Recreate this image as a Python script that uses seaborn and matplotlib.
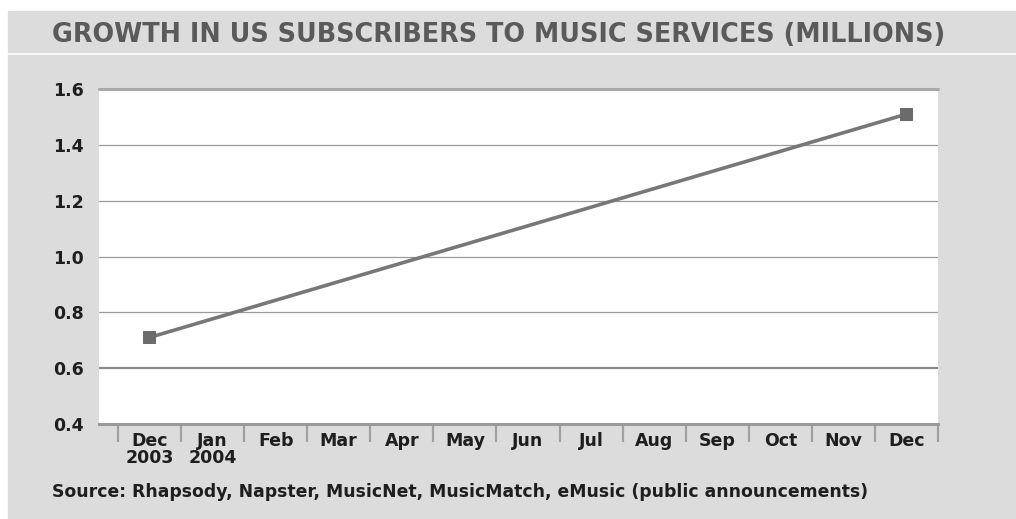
import numpy as np
import pandas as pd
import matplotlib
matplotlib.use("Agg")
import matplotlib.pyplot as plt
from matplotlib.patches import Rectangle
import seaborn as sns

# Month labels along the x axis
months = ["Dec\n2003", "Jan\n2004", "Feb", "Mar", "Apr", "May", "Jun",
          "Jul", "Aug", "Sep", "Oct", "Nov", "Dec"]
# Subscribers (millions); only the two end points were announced
subscribers = [0.71, None, None, None, None, None, None,
               None, None, None, None, None, 1.51]
y_ticks = [0.4, 0.6, 0.8, 1.0, 1.2, 1.4, 1.6]

title = "GROWTH IN US SUBSCRIBERS TO MUSIC SERVICES (MILLIONS)"
source = "Source: Rhapsody, Napster, MusicNet, MusicMatch, eMusic (public announcements)"

df = pd.DataFrame({"pos": np.arange(len(months)),
                   "subs": pd.to_numeric(pd.Series(subscribers), errors="coerce")}).dropna()

sns.set_theme(style="white")
plt.rcParams["font.family"] = ["DejaVu Sans"]

W, H = 1016, 519
fig = plt.figure(figsize=(W / 100, H / 100), dpi=100, facecolor="white")

BG = "#dcdcdc"
# title band and body panel, kept beneath the axes
fig.patches.append(Rectangle((8 / W, 1 - 52 / H), 1 - 8 / W, 41 / H,
                             transform=fig.transFigure, color=BG, zorder=-10))
fig.patches.append(Rectangle((8 / W, 0), 1 - 8 / W, 1 - 55 / H,
                             transform=fig.transFigure, color=BG, zorder=-10))

ax = fig.add_axes([99 / W, (H - 424) / H, (938 - 99) / W, (424 - 89) / H])
ax.set_facecolor("white")

# horizontal guide lines
for v in y_ticks[1:-1]:
    if v == 0.6:
        ax.axhline(v, color="#8a8a8a", lw=1.6, zorder=1)
    else:
        ax.axhline(v, color="#9a9a9a", lw=0.9, zorder=1)
ax.axhline(1.6, color="#a8a8a8", lw=2.2, zorder=1, clip_on=False)

sns.lineplot(data=df, x="pos", y="subs", ax=ax, color="#777777", lw=2.6,
             marker="s", markersize=9, markerfacecolor="#6b6b6b",
             markeredgecolor="#6b6b6b", zorder=3, clip_on=False)

ax.set_xlim(-0.8, len(months) - 0.5)
ax.set_ylim(y_ticks[0], y_ticks[-1])
ax.set_xlabel("")
ax.set_ylabel("")

for s in ["top", "right", "left"]:
    ax.spines[s].set_visible(False)
ax.spines["bottom"].set_color("#9a9a9a")
ax.spines["bottom"].set_linewidth(2.2)

ax.set_xticks(np.arange(len(months)))
ax.set_xticklabels(months, fontsize=12.5, fontweight="bold", color="#1e1e1e",
                   linespacing=0.9)
ax.set_xticks(np.arange(len(months) + 1) - 0.5, minor=True)
ax.tick_params(axis="x", which="major", length=0, pad=6)
ax.tick_params(axis="x", which="minor", length=13, width=1.6, color="#a0a0a0",
               direction="out", bottom=True)

ax.set_yticks(y_ticks)
ax.set_yticklabels([f"{v:.1f}" for v in y_ticks], fontsize=12.5,
                   fontweight="bold", color="#1e1e1e")
ax.tick_params(axis="y", length=0, pad=11)

fig.text(52 / W, 1 - 35 / H, title, fontsize=18.4, fontweight="bold",
         color="#5a5a5a", va="center", ha="left")
fig.text(52 / W, 1 - 492 / H, source, fontsize=12.4, fontweight="bold",
         color="#1e1e1e", va="center", ha="left")

fig.savefig("out.png", dpi=100, facecolor=fig.get_facecolor())
